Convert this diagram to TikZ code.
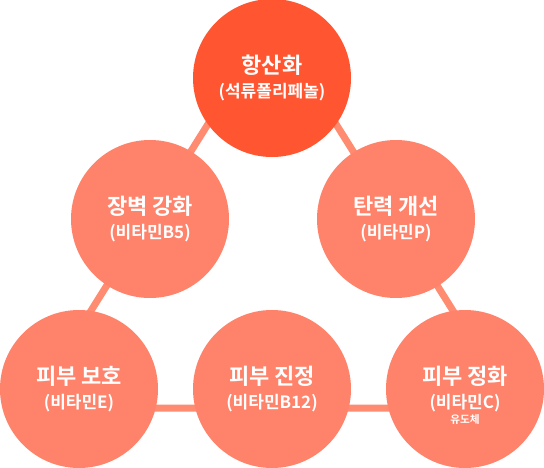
\documentclass[tikz,border=0pt]{standalone}
\usepackage{fontspec}
\setmainfont{Noto Sans CJK KR}[BoldFont={Noto Sans CJK KR Bold}]
\definecolor{hotred}{HTML}{FF5631}
\definecolor{salmon}{HTML}{FF826A}
\definecolor{linkpink}{HTML}{FF8B70}
\newcommand{\headtxt}[1]{{\fontsize{16.5}{17.5}\selectfont #1}}
\newcommand{\vittxt}[1]{{\fontsize{12.75}{17.5}\selectfont #1}}
\begin{document}
\begin{tikzpicture}[x=0.75pt, y=-0.75pt,
    bubble/.style={circle, fill=salmon, minimum size=118.5pt, inner sep=0pt,
      text=white, align=center, font=\bfseries\fontsize{12.75}{17.5}\selectfont},
    link/.style={draw=linkpink, line width=5.25pt}]
    \useasboundingbox (0,0) rectangle (544,468);

    % triangle behind the bubbles
    \coordinate (apex) at (272,22);
    \coordinate (baseL) at (30,408);
    \coordinate (baseR) at (514,408);
    \draw [link] (apex) -- (baseL) -- (baseR) -- cycle;

    \node [bubble, fill=hotred] (antiox) at (272,78) {\headtxt{항산화}\\\vittxt{(석류폴리페놀)}};
    \node [bubble] (barrier) at (150,219) {\headtxt{장벽 강화}\\\vittxt{(비타민B5)}};
    \node [bubble] (elastic) at (396,219) {\headtxt{탄력 개선}\\\vittxt{(비타민P)}};
    \node [bubble] (protect) at (79,389) {\headtxt{피부 보호}\\\vittxt{(비타민E)}};
    \node [bubble] (soothe) at (272,389) {\headtxt{피부 진정}\\\vittxt{(비타민B12)}};
    \node [bubble] (cleanse) at (465,389) {\headtxt{피부 정화}\\\vittxt{(비타민C)}};
    \node [text=white, font=\bfseries\fontsize{8}{9}\selectfont, inner sep=0pt] (deriv) at (465,419) {유도체};
\end{tikzpicture}
\end{document}
